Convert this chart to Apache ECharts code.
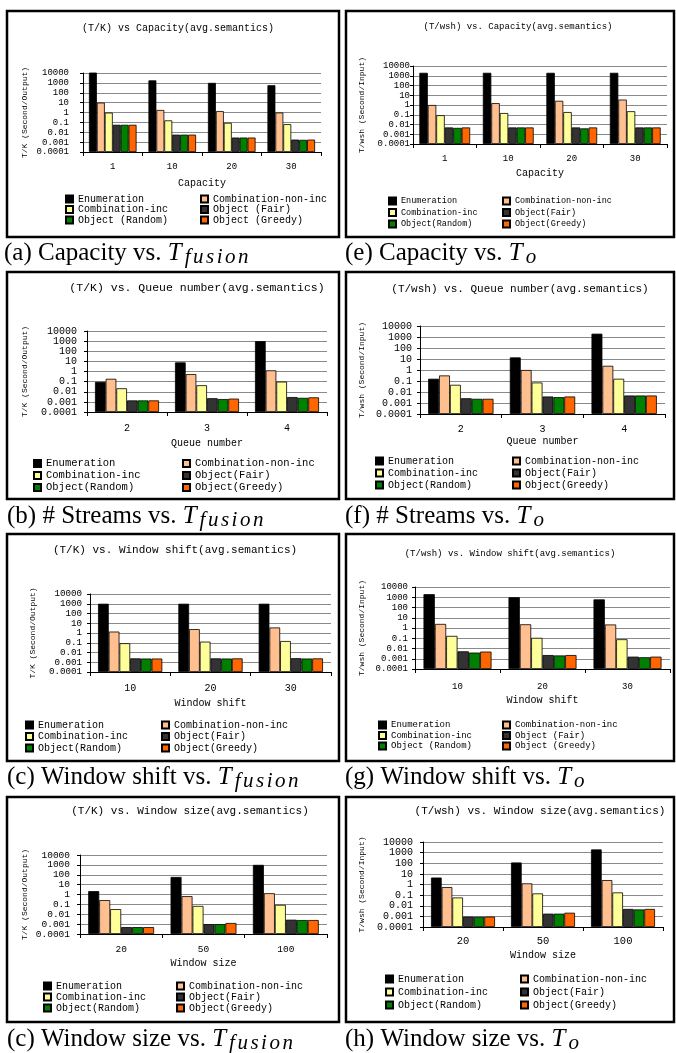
<!DOCTYPE html>
<html>
<head>
<meta charset="utf-8">
<script src="https://cdn.jsdelivr.net/npm/echarts@6.0.0/dist/echarts.min.js"></script>
<style>
html, body { margin: 0; padding: 0; background: #fff; }
#main { width: 676px; height: 1053px; }
</style>
</head>
<body>
<div id="main"></div>
<script>
var capacityCats = ['1', '10', '20', '30'];
var queueCats = ['2', '3', '4'];
var shiftCats = ['10', '20', '30'];
var sizeCats = ['20', '50', '100'];

var namesSpaced = ['Enumeration', 'Combination-non-inc', 'Combination-inc', 'Object (Fair)', 'Object (Random)', 'Object (Greedy)'];
var namesTight = ['Enumeration', 'Combination-non-inc', 'Combination-inc', 'Object(Fair)', 'Object(Random)', 'Object(Greedy)'];

// one row per method (legend order), one column per category
var capacityTfusion = [
  [11000, 1800, 1000, 580],
  [10, 1.8, 1.4, 1.0],
  [0.98, 0.16, 0.09, 0.066],
  [0.057, 0.0057, 0.0029, 0.0018],
  [0.057, 0.0057, 0.0029, 0.0017],
  [0.057, 0.0057, 0.0029, 0.0018]
];
var capacityTo = [
  [2000, 2000, 2000, 2000],
  [1.0, 1.55, 2.7, 3.6],
  [0.09, 0.15, 0.19, 0.23],
  [0.005, 0.005, 0.005, 0.005],
  [0.0045, 0.005, 0.004, 0.005],
  [0.005, 0.005, 0.005, 0.005]
];
var queueTfusion = [
  [0.095, 8, 1000],
  [0.19, 0.55, 1.3],
  [0.022, 0.044, 0.1],
  [0.0014, 0.0023, 0.003],
  [0.0014, 0.0019, 0.0025],
  [0.0014, 0.0021, 0.0028]
];
var queueTo = [
  [0.16, 14, 2000],
  [0.32, 1.0, 2.4],
  [0.045, 0.073, 0.16],
  [0.0027, 0.0039, 0.0048],
  [0.0024, 0.0034, 0.0048],
  [0.0024, 0.0039, 0.0048]
];
var shiftTfusion = [
  [1000, 1000, 1000],
  [1.4, 2.5, 3.7],
  [0.09, 0.13, 0.15],
  [0.0025, 0.0025, 0.0026],
  [0.0024, 0.0024, 0.0024],
  [0.0024, 0.0025, 0.0025]
];
var shiftTo = [
  [2000, 1000, 620],
  [2.5, 2.3, 2.2],
  [0.17, 0.11, 0.08],
  [0.0053, 0.0023, 0.0016],
  [0.004, 0.0021, 0.0014],
  [0.005, 0.0023, 0.0016]
];
var sizeTfusion = [
  [2.2, 60, 1000],
  [0.27, 0.68, 1.35],
  [0.033, 0.07, 0.09],
  [0.0005, 0.001, 0.0028],
  [0.0005, 0.001, 0.0026],
  [0.0005, 0.0013, 0.0026]
];
var sizeTo = [
  [4.5, 118, 2000],
  [0.57, 1.28, 2.6],
  [0.06, 0.145, 0.18],
  [0.00094, 0.0018, 0.005],
  [0.0009, 0.0018, 0.0045],
  [0.00094, 0.0022, 0.005]
];

var colors = ['#000000', '#ffbf8f', '#ffff99', '#333333', '#008000', '#ff6600'];
var mono = '"Liberation Mono", "DejaVu Sans Mono", monospace';
var serif = '"Liberation Serif", "DejaVu Serif", serif';

// box/grid: [x, y, w, h]; title: [cx, cy, size]; legend: [col1, col2, top, step, size]
var panels = [
  { data: capacityTfusion, cats: capacityCats, names: namesSpaced,
    title: '(T/K) vs Capacity(avg.semantics)', yName: 'T/K (Second/Output)', xName: 'Capacity',
    cap: '(a) Capacity vs. ', sub: 'fusion',
    box: [7, 11, 332, 226], grid: [83, 73, 238, 79], titlePos: [178, 28, 10],
    tick: 9, yTick: 9, yMargin: 14, xMargin: 10, yGap: 54, xGap: 26,
    legend: [65, 200, 194, 10.5, 10], capPos: [4, 253.5] },
  { data: capacityTo, cats: capacityCats, names: namesTight,
    title: '(T/wsh) vs. Capacity(avg.semantics)', yName: 'T/wsh (Second/Input)', xName: 'Capacity',
    cap: '(e) Capacity vs. ', sub: 'o',
    box: [346, 11, 328, 226], grid: [413, 66, 254, 78], titlePos: [518, 27, 9],
    tick: 9, yTick: 9, yMargin: 3, xMargin: 10, yGap: 47, xGap: 24,
    legend: [388, 502, 196, 11.5, 8.5], capPos: [345, 253.5] },
  { data: queueTfusion, cats: queueCats, names: namesTight,
    title: '(T/K) vs. Queue number(avg.semantics)', yName: 'T/K (Second/Output)', xName: 'Queue number',
    cap: '(b) # Streams vs. ', sub: 'fusion',
    box: [7, 272, 332, 227], grid: [87, 331, 240, 81], titlePos: [197, 288, 11.5],
    tick: 10, yTick: 10, yMargin: 10, xMargin: 11, yGap: 58, xGap: 26,
    legend: [33, 182, 458, 11, 10.5], capPos: [7, 516.5] },
  { data: queueTo, cats: queueCats, names: namesTight,
    title: '(T/wsh) vs. Queue number(avg.semantics)', yName: 'T/wsh (Second/Input)', xName: 'Queue number',
    cap: '(f) # Streams vs. ', sub: 'o',
    box: [346, 272, 328, 227], grid: [420, 326, 245, 88], titlePos: [520, 289, 11],
    tick: 10, yTick: 10, yMargin: 8, xMargin: 10, yGap: 54, xGap: 22,
    legend: [375, 512, 456, 12, 10], capPos: [345, 516.5] },
  { data: shiftTfusion, cats: shiftCats, names: namesTight,
    title: '(T/K) vs. Window shift(avg.semantics)', yName: 'T/K (Second/Output)', xName: 'Window shift',
    cap: '(c) Window shift vs. ', sub: 'fusion',
    box: [7, 534, 332, 227], grid: [90, 594, 241, 78], titlePos: [175, 550, 11],
    tick: 10, yTick: 9.2, yMargin: 8, xMargin: 11, yGap: 53, xGap: 26,
    legend: [25, 161, 720, 11.5, 10], capPos: [7, 777.5] },
  { data: shiftTo, cats: shiftCats, names: namesSpaced,
    title: '(T/wsh) vs. Window shift(avg.semantics)', yName: 'T/wsh (Second/Input)', xName: 'Window shift',
    cap: '(g) Window shift vs. ', sub: 'o',
    box: [346, 534, 328, 227], grid: [415, 587, 255, 82], titlePos: [510, 554, 9],
    tick: 9, yTick: 9, yMargin: 7, xMargin: 13, yGap: 49, xGap: 26,
    legend: [378, 502, 720, 10.5, 9], capPos: [345, 777.5] },
  { data: sizeTfusion, cats: sizeCats, names: namesTight,
    title: '(T/K) vs. Window size(avg.semantics)', yName: 'T/K (Second/Output)', xName: 'Window size',
    cap: '(c) Window size vs. ', sub: 'fusion',
    box: [7, 797, 332, 225], grid: [80, 855, 247, 79], titlePos: [190, 811, 11],
    tick: 9.5, yTick: 9.5, yMargin: 10, xMargin: 10, yGap: 51, xGap: 24,
    legend: [43, 176, 981, 11, 10], capPos: [7, 1039.5] },
  { data: sizeTo, cats: sizeCats, names: namesTight,
    title: '(T/wsh) vs. Window size(avg.semantics)', yName: 'T/wsh (Second/Input)', xName: 'Window size',
    cap: '(h) Window size vs. ', sub: 'o',
    box: [346, 797, 328, 225], grid: [423, 842, 240, 85], titlePos: [540, 811, 11],
    tick: 10.5, yTick: 10, yMargin: 10, xMargin: 9, yGap: 57, xGap: 23,
    legend: [385, 520, 974, 13, 10], capPos: [345, 1039.5] }
];

var option = {
  animation: false,
  backgroundColor: '#fff',
  grid: [], xAxis: [], yAxis: [], legend: [], series: [], graphic: []
};

function logLabel(v) {
  return String(Number(Number(v).toPrecision(6)));
}

// the subscript is set letter by letter to mimic the wide math-italic spacing
function subscript(s) {
  return s.split('').map(function (ch) { return '{s|' + ch + '}'; }).join('');
}

panels.forEach(function (p, i) {
  option.grid.push({
    left: p.grid[0], top: p.grid[1], width: p.grid[2], height: p.grid[3],
    containLabel: false, outerBoundsMode: 'none'
  });
  option.xAxis.push({
    type: 'category', gridIndex: i, data: p.cats,
    name: p.xName, nameLocation: 'middle', nameGap: p.xGap, nameMoveOverlap: false,
    nameTextStyle: { fontFamily: mono, fontSize: 10, color: '#000' },
    axisLine: { show: true, lineStyle: { color: '#000', width: 1 } },
    axisTick: { show: true, alignWithLabel: false, interval: 0, length: 4, lineStyle: { color: '#000' } },
    axisLabel: { interval: 0, margin: p.xMargin, fontFamily: mono, fontSize: p.tick, color: '#000' },
    splitLine: { show: false }
  });
  option.yAxis.push({
    type: 'log', logBase: 10, gridIndex: i, min: 0.0001, max: 10000, startValue: 0.0001, splitNumber: 8,
    name: p.yName, nameLocation: 'middle', nameGap: p.yGap, nameMoveOverlap: false,
    nameTextStyle: { fontFamily: mono, fontSize: 8, color: '#000' },
    axisLine: { show: true, lineStyle: { color: '#000', width: 1 } },
    axisTick: { show: true, length: 3, lineStyle: { color: '#000' } },
    axisLabel: {
      margin: p.yMargin, fontFamily: mono, fontSize: p.yTick, color: '#000', formatter: logLabel,
      showMinLabel: true, showMaxLabel: true, hideOverlap: false
    },
    splitLine: { show: true, lineStyle: { color: '#8a8a8a', width: 1 } },
    minorTick: { show: false }, minorSplitLine: { show: false }
  });

  p.data.forEach(function (row, k) {
    option.series.push({
      type: 'bar', name: p.names[k], xAxisIndex: i, yAxisIndex: i, data: row,
      barGap: '0%', barCategoryGap: '20%', clip: false, silent: true,
      itemStyle: { color: colors[k], borderColor: '#000', borderWidth: 0.8 }
    });
  });

  [[0, 2, 4], [1, 3, 5]].forEach(function (idx, c) {
    option.legend.push({
      orient: 'vertical', left: p.legend[c], top: p.legend[2], padding: 0,
      itemWidth: 7, itemHeight: 7, itemGap: p.legend[3] - 10, icon: 'rect',
      selectedMode: false,
      data: idx.map(function (k) { return p.names[k]; }),
      textStyle: { fontFamily: mono, fontSize: p.legend[4], lineHeight: 10, color: '#000' }
    });
  });

  option.graphic.push({
    type: 'rect', silent: true,
    shape: { x: p.box[0], y: p.box[1], width: p.box[2], height: p.box[3] },
    style: { fill: 'none', stroke: '#000', lineWidth: 2.5 }
  });
  option.graphic.push({
    type: 'text', silent: true, x: p.titlePos[0], y: p.titlePos[1],
    style: {
      text: p.title, fill: '#000', font: p.titlePos[2] + 'px ' + mono,
      align: 'center', verticalAlign: 'middle', textAlign: 'center', textVerticalAlign: 'middle'
    }
  });
  option.graphic.push({
    type: 'text', silent: true, x: p.capPos[0], y: p.capPos[1],
    style: {
      text: '{n|' + p.cap + '}{t|T}' + subscript(p.sub),
      fill: '#000', verticalAlign: 'middle', textVerticalAlign: 'middle',
      rich: {
        n: { fontFamily: serif, fontSize: 25, lineHeight: 28, verticalAlign: 'middle', fill: '#000' },
        t: { fontFamily: serif, fontSize: 25, fontStyle: 'italic', lineHeight: 28, verticalAlign: 'middle', fill: '#000', padding: [0, 3, 0, 0] },
        s: { fontFamily: serif, fontSize: 21, fontStyle: 'italic', lineHeight: 21, verticalAlign: 'bottom', fill: '#000', padding: [0, 2.5, 0, 0] }
      }
    }
  });
});

var chart = echarts.init(document.getElementById('main'), null, { renderer: 'canvas' });
chart.setOption(option);
</script>
</body>
</html>
